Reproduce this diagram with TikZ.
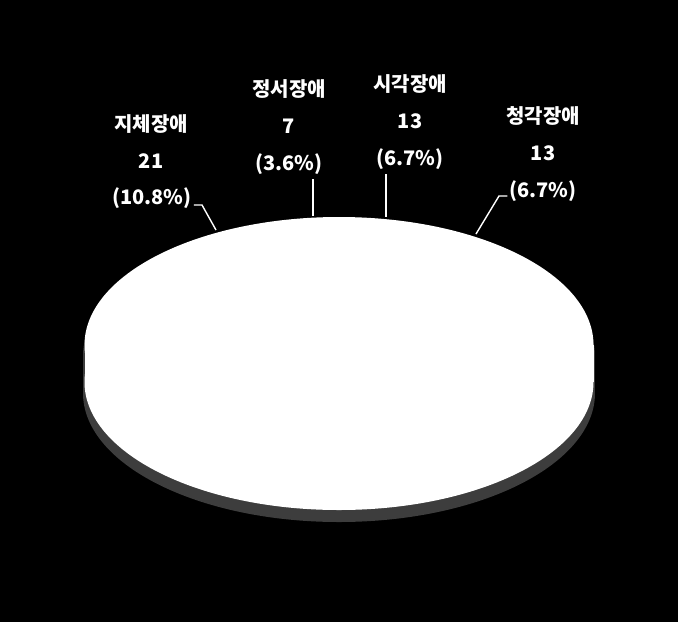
\documentclass[tikz,border=0pt]{standalone}
\usepackage{fontspec}
\setmainfont{Noto Sans CJK KR}
\begin{document}
\begin{tikzpicture}[x=1pt,y=-1pt,
  lbl/.style={text=white,inner sep=0pt,anchor=base,font=\fontsize{20}{23}\selectfont\bfseries},
  lead/.style={draw=white,line width=1.4pt}]
\useasboundingbox[fill=black] (0,0) rectangle (678,622);
% shadow
\begin{scope}[yshift=-11pt]
\fill[black!76] (339,345) ellipse [x radius=256, y radius=129];
\fill[black!76] (83,345) rectangle (595,382);
\fill[black!76] (339,382) ellipse [x radius=256, y radius=129];
\end{scope}
% body
\fill[white] (339,345) ellipse [x radius=254.5, y radius=128];
\fill[white] (84.5,345) rectangle (593.5,382);
\fill[white] (339,382) ellipse [x radius=254.5, y radius=128];
% labels
\node[lbl] (a1) at (151,131) {지체장애};
\node[lbl] (a2) at (151,168) {21};
\node[lbl] (a3) at (152,204) {(10.8\%)};
\node[lbl] (b1) at (289,96) {정서장애};
\node[lbl] (b2) at (289,133) {7};
\node[lbl] (b3) at (289,170) {(3.6\%)};
\node[lbl] (c1) at (410,91) {시각장애};
\node[lbl] (c2) at (410,128) {13};
\node[lbl] (c3) at (410,165) {(6.7\%)};
\node[lbl] (d1) at (543,123) {청각장애};
\node[lbl] (d2) at (543,160) {13};
\node[lbl] (d3) at (543,197) {(6.7\%)};
% leaders
\coordinate (pa) at (216,230);
\coordinate (pb) at (313,216);
\coordinate (pc) at (386,217);
\coordinate (pd) at (476,234);
\draw[lead] ([xshift=2pt]a3.east |- 0,205) -- (202,205) -- (pa);
\draw[lead] (b3.south -| pb) ++(0,5) -- (pb);
\draw[lead] (c3.south -| pc) ++(0,5) -- (pc);
\draw[lead] ([xshift=-2pt]d3.west |- 0,196) -- (499,196) -- (pd);
\end{tikzpicture}
\end{document}
